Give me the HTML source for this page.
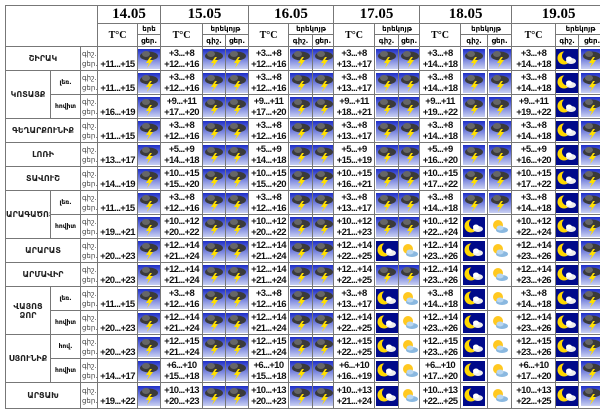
<!DOCTYPE html>
<html><head><meta charset="utf-8"><style>
body{margin:0;background:#fff;width:600px;height:417px;overflow:hidden;position:relative}
table{position:absolute;left:5px;top:5px;border-collapse:collapse;table-layout:fixed;width:600px}
td{border:1px solid #777;padding:0;overflow:hidden;white-space:nowrap;font-family:"Liberation Sans","DejaVu Sans",sans-serif}
tr.d{height:24px}
.t{font-weight:bold;font-size:9.5px;letter-spacing:-0.6px;line-height:11px;text-align:center;color:#111}
.l{font-size:7px;line-height:10px;color:#444;padding-left:1px;font-family:"DejaVu Sans",sans-serif}
.n{font-family:"DejaVu Sans",sans-serif;font-weight:bold;font-size:8px;text-align:center;color:#222}
.s{font-family:"DejaVu Sans",sans-serif;font-size:6px;font-weight:bold;text-align:center}
.h{font-weight:bold;font-size:15px;text-align:center;font-family:"Liberation Serif",serif}
.hh{font-family:"DejaVu Sans",sans-serif;font-size:7px;text-align:center;font-weight:bold}
.tc{font-family:"Liberation Serif",serif;font-weight:bold;font-size:10px;text-align:center}
.i svg{display:block;width:22px;height:20px;margin:0 auto}
</style></head><body>
<svg width="0" height="0" style="position:absolute"><defs>
<linearGradient id="gb" x1="0" y1="0" x2="0" y2="1"><stop offset="0" stop-color="#1e2fc8"/><stop offset="1" stop-color="#c9d0f2"/></linearGradient>
<symbol id="s" viewBox="0 0 22 20"><rect width="22" height="20" fill="url(#gb)"/><ellipse cx="11" cy="7" rx="9" ry="4.5" fill="#3a3a3a"/><ellipse cx="8" cy="5" rx="4" ry="3" fill="#666"/><polygon points="12,8 8,14 11,14 9,19 15,11 12,11 14,8" fill="#ffe000"/></symbol>
<symbol id="m" viewBox="0 0 22 20"><rect width="22" height="20" fill="#000a8a"/><circle cx="8" cy="9" r="6.5" fill="#ffd800"/><circle cx="11.5" cy="7" r="5.5" fill="#000a8a"/><ellipse cx="15" cy="12" rx="5" ry="3" fill="#eee"/><ellipse cx="13" cy="10" rx="3" ry="2.5" fill="#fff"/></symbol>
<symbol id="u" viewBox="0 0 22 20"><rect width="22" height="20" fill="#fff"/><circle cx="9" cy="8" r="5" fill="#ffc820"/><ellipse cx="13" cy="13" rx="6" ry="3" fill="#8ab8e0"/><ellipse cx="11" cy="11" rx="3.5" ry="2.5" fill="#b8d6f0"/></symbol>
</defs></svg>
<table>
<colgroup><col style="width:45px"><col style="width:30px"><col style="width:17px"><col style="width:40px"><col style="width:23px"><col style="width:42px"><col style="width:23px"><col style="width:23px"><col style="width:40px"><col style="width:24px"><col style="width:21px"><col style="width:41px"><col style="width:24px"><col style="width:21px"><col style="width:41px"><col style="width:27px"><col style="width:24px"><col style="width:44px"><col style="width:23px"><col style="width:27px"></colgroup>
<tr style="height:17px"><td colspan="3" rowspan="3"></td><td colspan="2" class="h">14.05</td><td colspan="3" class="h">15.05</td><td colspan="3" class="h">16.05</td><td colspan="3" class="h">17.05</td><td colspan="3" class="h">18.05</td><td colspan="3" class="h">19.05</td></tr>
<tr style="height:11px"><td rowspan="2" class="tc">T°C</td><td class="hh">երե</td><td rowspan="2" class="tc">T°C</td><td colspan="2" class="hh">երեկոյթ</td><td rowspan="2" class="tc">T°C</td><td colspan="2" class="hh">երեկոյթ</td><td rowspan="2" class="tc">T°C</td><td colspan="2" class="hh">երեկոյթ</td><td rowspan="2" class="tc">T°C</td><td colspan="2" class="hh">երեկոյթ</td><td rowspan="2" class="tc">T°C</td><td colspan="2" class="hh">երեկոյթ</td></tr>
<tr style="height:12px"><td class="hh">ցեր.</td><td class="hh">գիշ.</td><td class="hh">ցեր.</td><td class="hh">գիշ.</td><td class="hh">ցեր.</td><td class="hh">գիշ.</td><td class="hh">ցեր.</td><td class="hh">գիշ.</td><td class="hh">ցեր.</td><td class="hh">գիշ.</td><td class="hh">ցեր.</td></tr>

<tr class="d"><td colspan="2" class="n">ՇԻՐԱԿ</td><td class="l">գիշ.<br>ցեր.</td><td class="t"><br>+11...+15</td><td class="i"><svg><use href="#s"/></svg></td><td class="t">+3...+8<br>+12...+16</td><td class="i"><svg><use href="#s"/></svg></td><td class="i"><svg><use href="#s"/></svg></td><td class="t">+3...+8<br>+12...+16</td><td class="i"><svg><use href="#s"/></svg></td><td class="i"><svg><use href="#s"/></svg></td><td class="t">+3...+8<br>+13...+17</td><td class="i"><svg><use href="#s"/></svg></td><td class="i"><svg><use href="#s"/></svg></td><td class="t">+3...+8<br>+14...+18</td><td class="i"><svg><use href="#s"/></svg></td><td class="i"><svg><use href="#s"/></svg></td><td class="t">+3...+8<br>+14...+18</td><td class="i"><svg><use href="#m"/></svg></td><td class="i"><svg><use href="#s"/></svg></td></tr>

<tr class="d"><td rowspan="2" class="n">ԿՈՏԱՅՔ</td><td class="s">լեռ.</td><td class="l">գիշ.<br>ցեր.</td><td class="t"><br>+11...+15</td><td class="i"><svg><use href="#s"/></svg></td><td class="t">+3...+8<br>+12...+16</td><td class="i"><svg><use href="#s"/></svg></td><td class="i"><svg><use href="#s"/></svg></td><td class="t">+3...+8<br>+12...+16</td><td class="i"><svg><use href="#s"/></svg></td><td class="i"><svg><use href="#s"/></svg></td><td class="t">+3...+8<br>+13...+17</td><td class="i"><svg><use href="#s"/></svg></td><td class="i"><svg><use href="#s"/></svg></td><td class="t">+3...+8<br>+14...+18</td><td class="i"><svg><use href="#s"/></svg></td><td class="i"><svg><use href="#s"/></svg></td><td class="t">+3...+8<br>+14...+18</td><td class="i"><svg><use href="#m"/></svg></td><td class="i"><svg><use href="#s"/></svg></td></tr>

<tr class="d"><td class="s">հովիտ</td><td class="l">գիշ.<br>ցեր.</td><td class="t"><br>+16...+19</td><td class="i"><svg><use href="#s"/></svg></td><td class="t">+9...+11<br>+17...+20</td><td class="i"><svg><use href="#s"/></svg></td><td class="i"><svg><use href="#s"/></svg></td><td class="t">+9...+11<br>+17...+20</td><td class="i"><svg><use href="#s"/></svg></td><td class="i"><svg><use href="#s"/></svg></td><td class="t">+9...+11<br>+18...+21</td><td class="i"><svg><use href="#s"/></svg></td><td class="i"><svg><use href="#s"/></svg></td><td class="t">+9...+11<br>+19...+22</td><td class="i"><svg><use href="#s"/></svg></td><td class="i"><svg><use href="#s"/></svg></td><td class="t">+9...+11<br>+19...+22</td><td class="i"><svg><use href="#m"/></svg></td><td class="i"><svg><use href="#s"/></svg></td></tr>

<tr class="d"><td colspan="2" class="n">ԳԵՂԱՐՔՈՒՆԻՔ</td><td class="l">գիշ.<br>ցեր.</td><td class="t"><br>+11...+15</td><td class="i"><svg><use href="#s"/></svg></td><td class="t">+3...+8<br>+12...+16</td><td class="i"><svg><use href="#s"/></svg></td><td class="i"><svg><use href="#s"/></svg></td><td class="t">+3...+8<br>+12...+16</td><td class="i"><svg><use href="#s"/></svg></td><td class="i"><svg><use href="#s"/></svg></td><td class="t">+3...+8<br>+13...+17</td><td class="i"><svg><use href="#s"/></svg></td><td class="i"><svg><use href="#s"/></svg></td><td class="t">+3...+8<br>+14...+18</td><td class="i"><svg><use href="#s"/></svg></td><td class="i"><svg><use href="#s"/></svg></td><td class="t">+3...+8<br>+14...+18</td><td class="i"><svg><use href="#m"/></svg></td><td class="i"><svg><use href="#s"/></svg></td></tr>

<tr class="d"><td colspan="2" class="n">ԼՈՌԻ</td><td class="l">գիշ.<br>ցեր.</td><td class="t"><br>+13...+17</td><td class="i"><svg><use href="#s"/></svg></td><td class="t">+5...+9<br>+14...+18</td><td class="i"><svg><use href="#s"/></svg></td><td class="i"><svg><use href="#s"/></svg></td><td class="t">+5...+9<br>+14...+18</td><td class="i"><svg><use href="#s"/></svg></td><td class="i"><svg><use href="#s"/></svg></td><td class="t">+5...+9<br>+15...+19</td><td class="i"><svg><use href="#s"/></svg></td><td class="i"><svg><use href="#s"/></svg></td><td class="t">+5...+9<br>+16...+20</td><td class="i"><svg><use href="#s"/></svg></td><td class="i"><svg><use href="#s"/></svg></td><td class="t">+5...+9<br>+16...+20</td><td class="i"><svg><use href="#m"/></svg></td><td class="i"><svg><use href="#s"/></svg></td></tr>

<tr class="d"><td colspan="2" class="n">ՏԱՎՈՒՇ</td><td class="l">գիշ.<br>ցեր.</td><td class="t"><br>+14...+19</td><td class="i"><svg><use href="#s"/></svg></td><td class="t">+10...+15<br>+15...+20</td><td class="i"><svg><use href="#s"/></svg></td><td class="i"><svg><use href="#s"/></svg></td><td class="t">+10...+15<br>+15...+20</td><td class="i"><svg><use href="#s"/></svg></td><td class="i"><svg><use href="#s"/></svg></td><td class="t">+10...+15<br>+16...+21</td><td class="i"><svg><use href="#s"/></svg></td><td class="i"><svg><use href="#s"/></svg></td><td class="t">+10...+15<br>+17...+22</td><td class="i"><svg><use href="#s"/></svg></td><td class="i"><svg><use href="#s"/></svg></td><td class="t">+10...+15<br>+17...+22</td><td class="i"><svg><use href="#m"/></svg></td><td class="i"><svg><use href="#s"/></svg></td></tr>

<tr class="d"><td rowspan="2" class="n">ԱՐԱԳԱԾՈՏՆ</td><td class="s">լեռ.</td><td class="l">գիշ.<br>ցեր.</td><td class="t"><br>+11...+15</td><td class="i"><svg><use href="#s"/></svg></td><td class="t">+3...+8<br>+12...+16</td><td class="i"><svg><use href="#s"/></svg></td><td class="i"><svg><use href="#s"/></svg></td><td class="t">+3...+8<br>+12...+16</td><td class="i"><svg><use href="#s"/></svg></td><td class="i"><svg><use href="#s"/></svg></td><td class="t">+3...+8<br>+13...+17</td><td class="i"><svg><use href="#s"/></svg></td><td class="i"><svg><use href="#s"/></svg></td><td class="t">+3...+8<br>+14...+18</td><td class="i"><svg><use href="#s"/></svg></td><td class="i"><svg><use href="#s"/></svg></td><td class="t">+3...+8<br>+14...+18</td><td class="i"><svg><use href="#m"/></svg></td><td class="i"><svg><use href="#s"/></svg></td></tr>

<tr class="d"><td class="s">հովիտ</td><td class="l">գիշ.<br>ցեր.</td><td class="t"><br>+19...+21</td><td class="i"><svg><use href="#s"/></svg></td><td class="t">+10...+12<br>+20...+22</td><td class="i"><svg><use href="#s"/></svg></td><td class="i"><svg><use href="#s"/></svg></td><td class="t">+10...+12<br>+20...+22</td><td class="i"><svg><use href="#s"/></svg></td><td class="i"><svg><use href="#s"/></svg></td><td class="t">+10...+12<br>+21...+23</td><td class="i"><svg><use href="#s"/></svg></td><td class="i"><svg><use href="#s"/></svg></td><td class="t">+10...+12<br>+22...+24</td><td class="i"><svg><use href="#m"/></svg></td><td class="i"><svg><use href="#u"/></svg></td><td class="t">+10...+12<br>+22...+24</td><td class="i"><svg><use href="#m"/></svg></td><td class="i"><svg><use href="#s"/></svg></td></tr>

<tr class="d"><td colspan="2" class="n">ԱՐԱՐԱՏ</td><td class="l">գիշ.<br>ցեր.</td><td class="t"><br>+20...+23</td><td class="i"><svg><use href="#s"/></svg></td><td class="t">+12...+14<br>+21...+24</td><td class="i"><svg><use href="#s"/></svg></td><td class="i"><svg><use href="#s"/></svg></td><td class="t">+12...+14<br>+21...+24</td><td class="i"><svg><use href="#s"/></svg></td><td class="i"><svg><use href="#s"/></svg></td><td class="t">+12...+14<br>+22...+25</td><td class="i"><svg><use href="#m"/></svg></td><td class="i"><svg><use href="#u"/></svg></td><td class="t">+12...+14<br>+23...+26</td><td class="i"><svg><use href="#m"/></svg></td><td class="i"><svg><use href="#u"/></svg></td><td class="t">+12...+14<br>+23...+26</td><td class="i"><svg><use href="#m"/></svg></td><td class="i"><svg><use href="#s"/></svg></td></tr>

<tr class="d"><td colspan="2" class="n">ԱՐՄԱՎԻՐ</td><td class="l">գիշ.<br>ցեր.</td><td class="t"><br>+20...+23</td><td class="i"><svg><use href="#s"/></svg></td><td class="t">+12...+14<br>+21...+24</td><td class="i"><svg><use href="#s"/></svg></td><td class="i"><svg><use href="#s"/></svg></td><td class="t">+12...+14<br>+21...+24</td><td class="i"><svg><use href="#s"/></svg></td><td class="i"><svg><use href="#s"/></svg></td><td class="t">+12...+14<br>+22...+25</td><td class="i"><svg><use href="#s"/></svg></td><td class="i"><svg><use href="#s"/></svg></td><td class="t">+12...+14<br>+23...+26</td><td class="i"><svg><use href="#m"/></svg></td><td class="i"><svg><use href="#u"/></svg></td><td class="t">+12...+14<br>+23...+26</td><td class="i"><svg><use href="#m"/></svg></td><td class="i"><svg><use href="#s"/></svg></td></tr>

<tr class="d"><td rowspan="2" class="n">ՎԱՅՈՑ<br>ՁՈՐ</td><td class="s">լեռ.</td><td class="l">գիշ.<br>ցեր.</td><td class="t"><br>+11...+15</td><td class="i"><svg><use href="#s"/></svg></td><td class="t">+3...+8<br>+12...+16</td><td class="i"><svg><use href="#s"/></svg></td><td class="i"><svg><use href="#s"/></svg></td><td class="t">+3...+8<br>+12...+16</td><td class="i"><svg><use href="#s"/></svg></td><td class="i"><svg><use href="#s"/></svg></td><td class="t">+3...+8<br>+13...+17</td><td class="i"><svg><use href="#m"/></svg></td><td class="i"><svg><use href="#u"/></svg></td><td class="t">+3...+8<br>+14...+18</td><td class="i"><svg><use href="#m"/></svg></td><td class="i"><svg><use href="#u"/></svg></td><td class="t">+3...+8<br>+14...+18</td><td class="i"><svg><use href="#m"/></svg></td><td class="i"><svg><use href="#s"/></svg></td></tr>

<tr class="d"><td class="s">հովիտ</td><td class="l">գիշ.<br>ցեր.</td><td class="t"><br>+20...+23</td><td class="i"><svg><use href="#s"/></svg></td><td class="t">+12...+14<br>+21...+24</td><td class="i"><svg><use href="#s"/></svg></td><td class="i"><svg><use href="#s"/></svg></td><td class="t">+12...+14<br>+21...+24</td><td class="i"><svg><use href="#s"/></svg></td><td class="i"><svg><use href="#s"/></svg></td><td class="t">+12...+14<br>+22...+25</td><td class="i"><svg><use href="#m"/></svg></td><td class="i"><svg><use href="#u"/></svg></td><td class="t">+12...+14<br>+23...+26</td><td class="i"><svg><use href="#m"/></svg></td><td class="i"><svg><use href="#u"/></svg></td><td class="t">+12...+14<br>+23...+26</td><td class="i"><svg><use href="#m"/></svg></td><td class="i"><svg><use href="#s"/></svg></td></tr>

<tr class="d"><td rowspan="2" class="n">ՍՅՈՒՆԻՔ</td><td class="s">հով.</td><td class="l">գիշ.<br>ցեր.</td><td class="t"><br>+20...+23</td><td class="i"><svg><use href="#s"/></svg></td><td class="t">+12...+15<br>+21...+24</td><td class="i"><svg><use href="#s"/></svg></td><td class="i"><svg><use href="#s"/></svg></td><td class="t">+12...+15<br>+21...+24</td><td class="i"><svg><use href="#s"/></svg></td><td class="i"><svg><use href="#s"/></svg></td><td class="t">+12...+15<br>+22...+25</td><td class="i"><svg><use href="#m"/></svg></td><td class="i"><svg><use href="#u"/></svg></td><td class="t">+12...+15<br>+23...+26</td><td class="i"><svg><use href="#m"/></svg></td><td class="i"><svg><use href="#u"/></svg></td><td class="t">+12...+15<br>+23...+26</td><td class="i"><svg><use href="#m"/></svg></td><td class="i"><svg><use href="#s"/></svg></td></tr>

<tr class="d"><td class="s">հովիտ</td><td class="l">գիշ.<br>ցեր.</td><td class="t"><br>+14...+17</td><td class="i"><svg><use href="#s"/></svg></td><td class="t">+6...+10<br>+15...+18</td><td class="i"><svg><use href="#s"/></svg></td><td class="i"><svg><use href="#s"/></svg></td><td class="t">+6...+10<br>+15...+18</td><td class="i"><svg><use href="#s"/></svg></td><td class="i"><svg><use href="#s"/></svg></td><td class="t">+6...+10<br>+16...+19</td><td class="i"><svg><use href="#m"/></svg></td><td class="i"><svg><use href="#u"/></svg></td><td class="t">+6...+10<br>+17...+20</td><td class="i"><svg><use href="#m"/></svg></td><td class="i"><svg><use href="#u"/></svg></td><td class="t">+6...+10<br>+17...+20</td><td class="i"><svg><use href="#m"/></svg></td><td class="i"><svg><use href="#s"/></svg></td></tr>

<tr style="height:26px"><td colspan="2" class="n">ԱՐՑԱԽ</td><td class="l">գիշ.<br>ցեր.</td><td class="t"><br>+19...+22</td><td class="i"><svg><use href="#s"/></svg></td><td class="t">+10...+13<br>+20...+23</td><td class="i"><svg><use href="#s"/></svg></td><td class="i"><svg><use href="#s"/></svg></td><td class="t">+10...+13<br>+20...+23</td><td class="i"><svg><use href="#s"/></svg></td><td class="i"><svg><use href="#s"/></svg></td><td class="t">+10...+13<br>+21...+24</td><td class="i"><svg><use href="#m"/></svg></td><td class="i"><svg><use href="#u"/></svg></td><td class="t">+10...+13<br>+22...+25</td><td class="i"><svg><use href="#m"/></svg></td><td class="i"><svg><use href="#u"/></svg></td><td class="t">+10...+13<br>+22...+25</td><td class="i"><svg><use href="#m"/></svg></td><td class="i"><svg><use href="#s"/></svg></td></tr>
</table>
</body></html>
